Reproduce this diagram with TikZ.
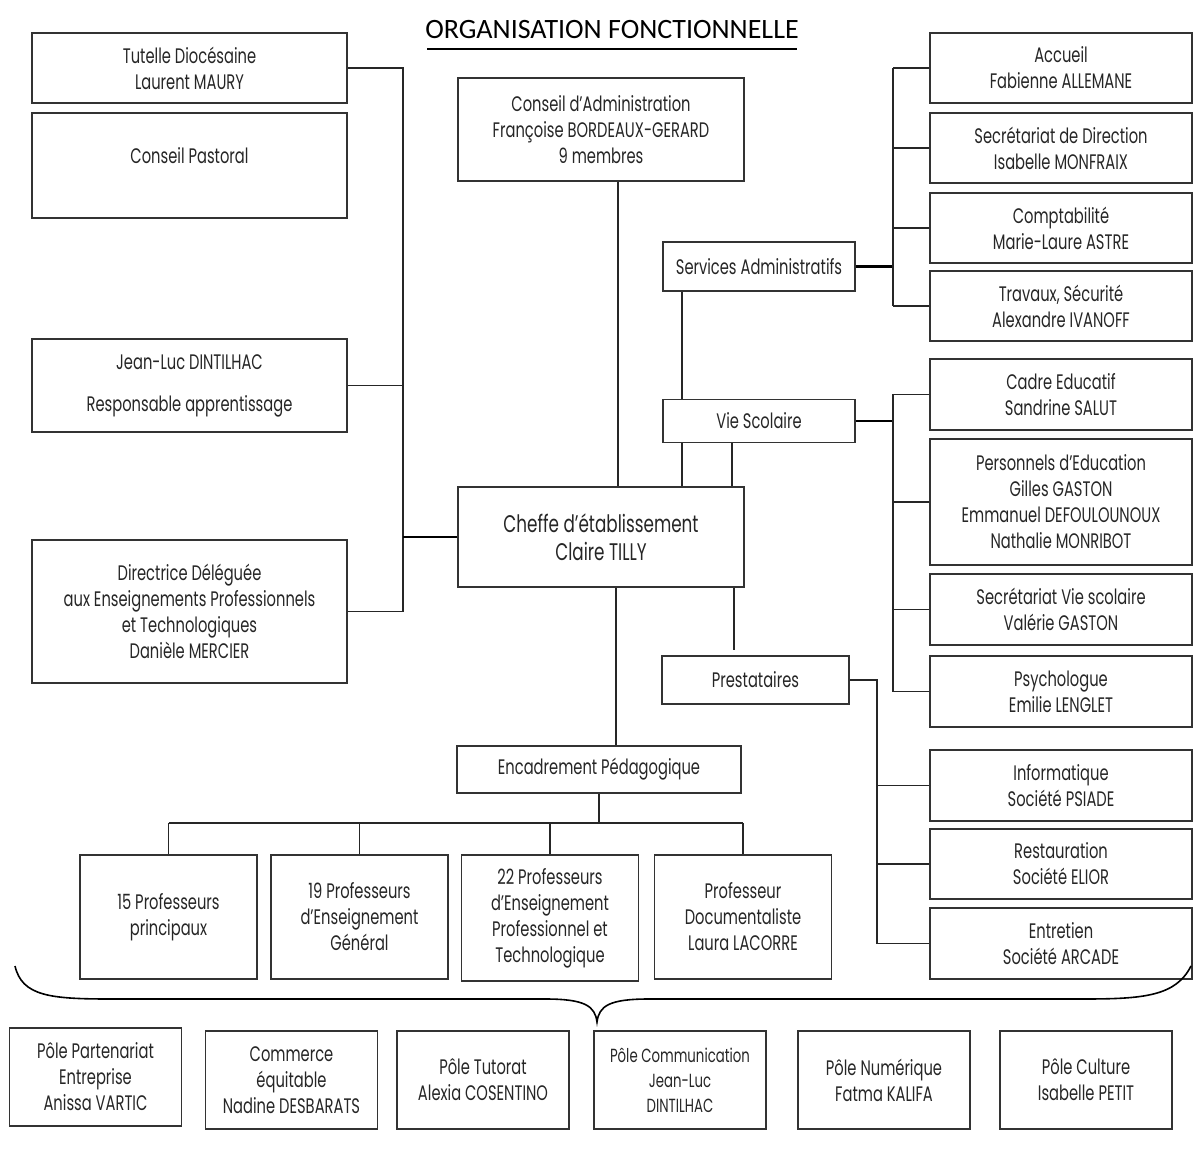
\documentclass[tikz,border=0pt]{standalone}
\usepackage{fontspec}
\setmainfont[FakeStretch=0.7]{Poppins}
\newfontfamily\titlefont{Carlito}
\usetikzlibrary{positioning, calc}
\tikzset{x=0.5pt, y=-0.5pt,
box/.style={draw=black!80, line width=0.6pt, align=center, inner sep=0pt,
  font=\fontsize{10.5}{13}\selectfont, text=black!85},
sz/.style 2 args={minimum width=#1*0.5pt, minimum height=#2*0.5pt},
link/.style={draw=black!85, line width=0.6pt},
bold link/.style={draw=black, line width=1.1pt},
}

\begin{document}
\begin{tikzpicture}
\useasboundingbox (0,0) rectangle (1194,1149);
    \node[font=\titlefont\fontsize{14}{16}\selectfont] (title) at (612,30) {ORGANISATION FONCTIONNELLE};
    \draw[line width=0.9pt] ([yshift=-1.5pt]title.south west -| 427,0) -- ([yshift=-1.5pt]title.south east -| 797,0);

    % left column
    \node[box, sz={315}{70}] (tutelle) at (189.5,68) {Tutelle Diocésaine\\Laurent MAURY};
    \node[box, sz={315}{105}] (pastoral) at (189.5,165.5) {Conseil Pastoral\\[-3pt]};
    \node[box, sz={315}{93}] (dintilhac) at (189.5,385.5) {Jean-Luc DINTILHAC\\[8pt]Responsable apprentissage};
    \node[box, sz={315}{143}] (directrice) at (189.5,611.5) {Directrice Déléguée\\aux Enseignements Professionnels\\et Technologiques\\Danièle MERCIER};

    % centre
    \node[box, sz={286}{103}] (conseil) at (601,129.5) {Conseil d'Administration\\Françoise BORDEAUX-GERARD\\9 membres};
    \node[box, sz={192}{49}] (services) at (759,266.5) {Services Administratifs};
    \node[box, sz={192}{43}] (vie) at (759,421) {Vie Scolaire};
    \node[box, sz={286}{100}, font=\fontsize{12}{14}\selectfont] (cheffe) at (601,537) {Cheffe d'établissement\\Claire TILLY};
    \node[box, sz={187}{48}] (prest) at (755.5,680) {Prestataires};
    \node[box, sz={284}{47}] (encadrement) at (599,769.5) {Encadrement Pédagogique};

    % professeurs
    \node[box, sz={177}{124}] (p15) at (168.5,917) {15 Professeurs\\principaux};
    \node[box, sz={177}{124}] (p19) at (359.5,917) {19 Professeurs\\d'Enseignement\\Général};
    \node[box, sz={177}{126}] (p22) at (550,918) {22 Professeurs\\d'Enseignement\\Professionnel et\\Technologique};
    \node[box, sz={177}{124}] (pdoc) at (743,917) {Professeur\\Documentaliste\\Laura LACORRE};

    % right column
    \node[box, sz={262}{70}] (accueil) at (1061,68) {Accueil\\Fabienne ALLEMANE};
    \node[box, sz={262}{70}] (secdir) at (1061,148) {Secrétariat de Direction\\Isabelle MONFRAIX};
    \node[box, sz={262}{70}] (compta) at (1061,228) {Comptabilité\\Marie-Laure ASTRE};
    \node[box, sz={262}{70}] (travaux) at (1061,306) {Travaux, Sécurité\\Alexandre IVANOFF};
    \node[box, sz={262}{71}] (cadre) at (1061,394.5) {Cadre Educatif\\Sandrine SALUT};
    \node[box, sz={262}{126}] (perso) at (1061,502) {Personnels d'Education\\Gilles GASTON\\Emmanuel DEFOULOUNOUX\\Nathalie MONRIBOT};
    \node[box, sz={262}{71}] (secvs) at (1061,609.5) {Secrétariat Vie scolaire\\Valérie GASTON};
    \node[box, sz={262}{71}] (psy) at (1061,691.5) {Psychologue\\Emilie LENGLET};
    \node[box, sz={262}{71}] (info) at (1061,785.5) {Informatique\\Société PSIADE};
    \node[box, sz={262}{70}] (resto) at (1061,864) {Restauration\\Société ELIOR};
    \node[box, sz={262}{71}] (entretien) at (1061,943.5) {Entretien\\Société ARCADE};

    % poles
    \node[box, sz={172}{98}] (partenariat) at (95.5,1077) {Pôle Partenariat\\Entreprise\\Anissa VARTIC};
    \node[box, sz={172}{98}] (commerce) at (291.5,1080) {Commerce\\équitable\\Nadine DESBARATS};
    \node[box, sz={172}{98}] (tutorat) at (483,1080) {Pôle Tutorat\\Alexia COSENTINO};
    \node[box, sz={172}{98}, font=\fontsize{9.5}{12.5}\selectfont] (communication) at (680,1080) {Pôle Communication\\Jean-Luc\\DINTILHAC};
    \node[box, sz={172}{98}] (numerique) at (884,1080) {Pôle Numérique\\Fatma KALIFA};
    \node[box, sz={172}{98}] (culture) at (1086,1080) {Pôle Culture\\Isabelle PETIT};

    % trunks
    \coordinate (ltrunk) at (403,0);
    \coordinate (rtrunk) at (893,0);
    \coordinate (ptrunk) at (877,0);
    \coordinate (colA) at (682,0);
    \coordinate (colB) at (732,0);
    \coordinate (colC) at (618,0);
    \coordinate (colD) at (616,0);
    \coordinate (colE) at (734,0);
    \coordinate (split) at (0,823);

    \draw[link]
    (tutelle.east) -- (tutelle.east -| ltrunk) -- (directrice.east -| ltrunk) -- (directrice.east)
    (dintilhac.east) -- (dintilhac.east -| ltrunk)
    (conseil.south -| colC) -- (cheffe.north -| colC)
    (services.south -| colA) -- (vie.north -| colA)
    (vie.south -| colA) -- (cheffe.north -| colA)
    (vie.south -| colB) -- (cheffe.north -| colB)
    (cheffe.south -| colE) -- ([yshift=2.5pt]prest.north -| colE)
    (cheffe.south -| colD) -- (encadrement.north -| colD)
    ;
    \draw[bold link] (cheffe.west) -- (cheffe.west -| ltrunk);
    \draw[bold link] (services.east) -- (services.east -| rtrunk);
    \draw[bold link] (vie.east) -- (vie.east -| rtrunk);

    % services administratifs
    \draw[link] (accueil.west -| rtrunk) -- (travaux.west -| rtrunk);
    \foreach \n in {accueil, secdir, compta, travaux}
        \draw[link] (\n.west) -- (\n.west -| rtrunk);

    % vie scolaire
    \draw[link] (cadre.west -| rtrunk) -- (psy.west -| rtrunk);
    \foreach \n in {cadre, perso, secvs, psy}
        \draw[link] (\n.west) -- (\n.west -| rtrunk);

    % prestataires
    \draw[link] (prest.east) -- (prest.east -| ptrunk) -- (entretien.west -| ptrunk) -- (entretien.west);
    \foreach \n in {info, resto}
        \draw[link] (\n.west) -- (\n.west -| ptrunk);

    % encadrement pedagogique
    \draw[link] (encadrement.south) -- (encadrement.south |- split);
    \draw[link] (p15.north |- split) -- (pdoc.north |- split);
    \foreach \n in {p15, p19, p22, pdoc}
        \draw[link] (\n.north |- split) -- (\n.north);

    % accolade
    \draw[black, line width=0.8pt] (15,966) .. controls (22,996) and (50,999) .. (110,999) -- (545,999)
        .. controls (585,999) and (595,1006) .. (597,1022)
        .. controls (599,1006) and (609,999) .. (649,999) -- (1084,999)
        .. controls (1144,999) and (1176,996) .. (1191,966);
\end{tikzpicture}
\end{document}
